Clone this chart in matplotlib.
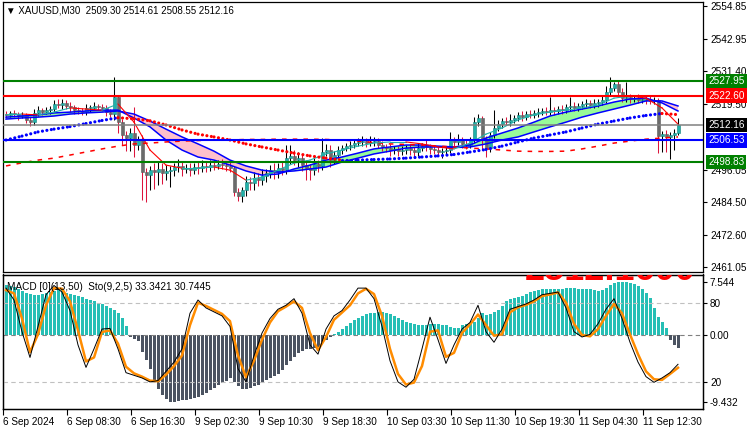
import numpy as np
import matplotlib
matplotlib.use("Agg")
import matplotlib.pyplot as plt
import matplotlib.transforms as mtransforms

plt.rcParams['font.family'] = ['Liberation Sans', 'DejaVu Sans']

# ---- price data (M30 bars) ----
first_open = 2516.0
closes = [
    2515.7, 2516.4, 2516.0, 2515.3, 2515.7, 2513.9, 2513.1, 2516.4, 2517.4, 2516.7,
    2517.4, 2517.8, 2519.6, 2519.2, 2520.0, 2518.9, 2518.5, 2517.4, 2517.1, 2516.7,
    2518.2, 2518.2, 2518.9, 2518.5, 2518.2, 2516.7, 2516.0, 2522.1, 2513.1, 2508.5,
    2507.4, 2509.2, 2504.9, 2506.7, 2495.2, 2494.1, 2495.9, 2495.2, 2496.3, 2494.9,
    2495.6, 2495.9, 2497.0, 2497.4, 2496.3, 2496.6, 2495.9, 2497.0, 2496.6, 2497.4,
    2497.0, 2497.7, 2497.4, 2498.1, 2497.7, 2497.4, 2496.6, 2488.0, 2486.6, 2488.8,
    2491.6, 2491.3, 2493.1, 2492.3, 2493.8, 2494.9, 2495.9, 2495.2, 2496.6, 2495.9,
    2500.2, 2501.0, 2499.5, 2500.2, 2497.7, 2496.6, 2495.9, 2498.1, 2497.4, 2502.4,
    2503.1, 2499.5, 2501.3, 2503.1, 2503.8, 2504.5, 2504.9, 2505.6, 2506.0, 2506.3,
    2505.6, 2506.0, 2506.3, 2504.9, 2504.2, 2503.8, 2503.1, 2503.5, 2502.7, 2503.1,
    2503.8, 2503.1, 2502.4, 2503.8, 2504.5, 2504.2, 2503.5, 2503.1, 2502.4, 2502.7,
    2503.1, 2506.7, 2506.0, 2506.7, 2505.3, 2504.9, 2506.7, 2513.1, 2514.6, 2506.7,
    2503.8, 2508.5, 2511.0, 2512.4, 2513.5, 2513.1, 2513.9, 2514.6, 2515.7, 2514.9,
    2516.0, 2515.7, 2516.4, 2516.7, 2517.1, 2516.7, 2517.4, 2517.1, 2517.8, 2517.4,
    2518.5, 2518.9, 2518.2, 2518.9, 2519.6, 2520.0, 2519.2, 2520.0, 2520.3, 2521.0,
    2523.9, 2525.3, 2526.8, 2523.9, 2521.7, 2522.1, 2521.4, 2521.7, 2521.0, 2521.4,
    2521.0, 2520.7, 2521.0, 2508.1, 2508.8, 2507.8, 2508.5, 2509.3, 2512.16,
]
hi_ext = [
    1.0, 0.8, 1.2, 0.9, 1.1, 0.7, 1.0, 1.3, 1.5, 0.9,
    1.2, 1.0, 1.6, 1.9, 1.3, 1.1, 1.4, 0.9, 1.0, 1.2,
    1.5, 1.1, 1.3, 0.8, 1.0, 1.2, 1.0, 7.2, 0.6, 1.2,
    1.5, 1.8, 9.3, 1.3, 1.8, 1.3, 1.6, 2.6, 2.7, 2.2,
    2.0, 1.6, 1.4, 2.5, 1.8, 1.6, 2.0, 1.5, 1.8, 2.2,
    1.5, 2.0, 1.7, 1.4, 1.8, 1.2, 1.5, 0.9, 1.4, 1.2,
    2.2, 1.8, 2.0, 1.6, 2.4, 1.5, 1.8, 2.6, 1.9, 2.4,
    4.7, 4.0, 2.0, 2.2, 1.5, 1.8, 1.6, 2.0, 1.4, 5.0,
    2.0, 1.8, 1.5, 1.4, 1.2, 1.3, 1.6, 1.0, 1.4, 2.0,
    1.2, 2.2, 1.5, 1.0, 1.3, 1.1, 1.4, 1.0, 1.2, 1.3,
    1.1, 1.5, 1.0, 1.8, 1.2, 2.4, 1.0, 1.3, 1.6, 1.0,
    1.4, 2.9, 1.2, 2.0, 1.0, 1.3, 1.1, 1.9, 1.4, 0.8,
    1.5, 1.2, 6.4, 1.4, 1.0, 1.6, 2.2, 1.2, 1.0, 1.5,
    1.2, 1.3, 1.0, 1.4, 1.1, 1.6, 4.8, 1.0, 1.2, 1.3,
    1.1, 3.3, 1.4, 1.0, 1.2, 1.5, 1.0, 1.3, 1.1, 1.4,
    2.1, 4.0, 0.7, 1.2, 1.5, 5.5, 1.0, 1.2, 1.4, 1.1,
    1.0, 1.5, 1.2, 0.9, 1.3, 1.6, 1.2, 1.2, 2.45,
]
lo_ext = [
    1.1, 0.9, 1.0, 1.3, 0.8, 1.2, 1.5, 0.9, 1.0, 1.1,
    0.8, 1.2, 1.0, 0.9, 1.3, 1.1, 1.6, 1.2, 1.0, 0.9,
    1.1, 1.3, 0.9, 1.2, 1.0, 1.4, 1.2, 2.1, 4.0, 3.5,
    4.5, 4.8, 4.3, 1.9, 10.0, 9.6, 5.3, 6.2, 4.7, 3.9,
    2.5, 5.6, 2.2, 1.8, 2.4, 1.6, 2.0, 1.5, 2.2, 1.4,
    1.8, 1.3, 1.6, 1.2, 1.5, 1.9, 1.4, 1.5, 1.8, 2.1,
    2.0, 2.4, 2.5, 2.2, 1.9, 2.3, 1.8, 2.6, 2.0, 1.7,
    1.5, 2.0, 1.8, 2.4, 2.2, 4.3, 3.6, 1.8, 2.0, 1.5,
    1.6, 2.4, 1.5, 1.2, 1.4, 1.1, 1.3, 1.0, 1.2, 1.5,
    1.3, 1.0, 1.4, 1.2, 1.6, 1.5, 2.0, 1.4, 1.8, 1.5,
    1.3, 1.6, 2.2, 1.4, 1.2, 1.5, 1.8, 1.3, 1.6, 2.0,
    1.5, 1.2, 1.4, 1.1, 1.6, 1.3, 1.2, 1.0, 1.4, 3.7,
    3.2, 1.5, 1.2, 1.0, 1.3, 1.1, 1.4, 1.2, 1.0, 1.3,
    1.1, 1.2, 1.0, 1.3, 1.1, 1.2, 1.0, 1.4, 1.1, 1.2,
    1.0, 1.3, 1.1, 1.2, 1.0, 1.4, 1.2, 1.0, 1.3, 1.1,
    1.0, 1.2, 1.1, 1.5, 1.4, 1.2, 1.3, 1.1, 1.2, 1.0,
    1.3, 1.1, 1.2, 6.1, 5.7, 5.3, 7.8, 5.5, 0.75,
]

# ---- indicator lines, one value every 4 bars ----
ind_step = 4
dot_ma = [
    2506.7, 2508.1, 2509.6, 2510.6, 2511.5, 2512.6, 2513.7, 2514.7, 2514.3, 2513.6,
    2512.1, 2510.3, 2508.8, 2507.8, 2506.7, 2505.3, 2504.2, 2503.1, 2502.0, 2501.0,
    2500.2, 2499.5, 2499.5, 2499.7, 2499.9, 2500.2, 2500.6, 2501.0, 2501.5, 2502.4,
    2503.3, 2504.5, 2506.0, 2507.4, 2508.5, 2509.6, 2511.0, 2512.4, 2513.5, 2514.6,
    2515.5, 2516.2, 2515.8,
]
long_ma = [
    2497.4, 2498.5, 2499.5, 2500.2, 2501.3, 2502.4, 2503.5, 2504.5, 2505.3, 2505.6,
    2506.0, 2506.3, 2506.5, 2506.7, 2506.7, 2506.9, 2506.9, 2507.0, 2507.0, 2507.0,
    2506.9, 2506.7, 2506.3, 2505.8, 2505.3, 2505.1, 2504.9, 2504.5, 2504.2, 2503.8,
    2503.5, 2503.1, 2502.7, 2502.6, 2502.6, 2502.7, 2503.5, 2504.5, 2505.6, 2506.3,
    2507.0, 2507.4, 2507.8,
]
ribbon_fast = [
    2514.9, 2515.3, 2515.7, 2516.4, 2516.7, 2517.1, 2517.4, 2517.4, 2514.6, 2511.4,
    2506.7, 2503.1, 2500.6, 2499.5, 2497.7, 2495.6, 2494.1, 2494.5, 2496.3, 2497.7,
    2499.5, 2500.6, 2502.0, 2503.5, 2504.2, 2504.9, 2504.9, 2504.5, 2504.2, 2504.9,
    2507.4, 2509.2, 2511.0, 2513.1, 2515.3, 2516.7, 2517.8, 2518.9, 2520.3, 2521.4,
    2521.7, 2520.0, 2517.1,
]
ribbon_slow = [
    2514.2, 2514.6, 2514.9, 2515.3, 2516.0, 2516.4, 2516.7, 2517.1, 2516.0, 2513.5,
    2510.6, 2507.8, 2505.3, 2502.7, 2499.5, 2497.4, 2495.9, 2495.2, 2495.6, 2496.3,
    2497.0, 2498.8, 2500.2, 2501.7, 2502.7, 2503.8, 2504.2, 2504.2, 2504.0, 2504.2,
    2505.3, 2506.7, 2507.8, 2509.6, 2511.4, 2513.1, 2514.9, 2516.4, 2517.8, 2519.2,
    2520.7, 2520.7, 2518.9,
]
fast_line = [
    2515.7, 2516.0, 2515.7, 2516.7, 2518.2, 2517.8, 2517.4, 2519.6, 2513.1, 2503.1,
    2497.7, 2496.6, 2496.6, 2497.0, 2495.9, 2492.3, 2493.4, 2495.9, 2498.4, 2499.5,
    2501.7, 2503.1, 2504.5, 2505.6, 2506.0, 2506.0, 2505.3, 2504.2, 2503.5, 2505.6,
    2508.8, 2511.0, 2513.9, 2515.7, 2516.7, 2517.4, 2518.2, 2519.2, 2521.7, 2522.5,
    2521.7, 2518.2, 2512.4,
]

# ---- MACD histogram (every bar) ----
macd_hist = [
    7.1, 7.0, 6.8, 6.5, 6.2, 6.0, 5.8, 5.7, 5.7, 5.8,
    6.0, 6.1, 6.2, 6.4, 6.4, 6.0, 5.8, 5.7, 5.5, 5.4,
    5.2, 5.0, 4.9, 4.6, 4.4, 4.2, 3.9, 3.6, 3.1, 2.4,
    1.3, -0.3, -0.5, -0.8, -2.4, -3.5, -4.8, -6.5, -7.6, -8.4,
    -9.0, -9.43, -9.4, -9.3, -9.2, -9.1, -9.0, -8.9, -8.7, -8.4,
    -8.1, -7.8, -7.5, -7.0, -6.7, -6.4, -6.1, -6.6, -7.2, -7.6,
    -7.6, -7.4, -7.2, -7.0, -6.7, -6.3, -6.0, -5.7, -5.4, -4.9,
    -4.2, -3.6, -3.0, -2.5, -2.2, -2.0, -1.9, -1.8, -1.6, -1.0,
    -0.6, -0.3, 0.2, 0.5, 0.9, 1.3, 1.7, 2.1, 2.4, 2.7,
    3.0, 3.1, 3.2, 3.3, 3.3, 3.2, 3.0, 2.8, 2.4, 2.1,
    1.9, 1.7, 1.6, 1.5, 1.5, 1.5, 1.6, 1.6, 1.6, 1.5,
    1.4, 1.2, 1.1, 1.0, 1.4, 1.6, 1.7, 1.9, 2.5, 3.1,
    2.9, 3.0, 3.3, 3.6, 4.2, 4.8, 5.2, 5.3, 5.4, 5.6,
    5.9, 6.1, 6.2, 6.4, 6.5, 6.5, 6.6, 6.6, 6.6, 6.6,
    6.7, 6.7, 6.7, 6.6, 6.6, 6.5, 6.5, 6.4, 6.3, 6.4,
    6.7, 7.1, 7.4, 7.5, 7.544, 7.5, 7.4, 7.2, 7.0, 6.6,
    6.0, 5.3, 3.9, 2.6, 1.9, 1.0, -0.7, -1.4, -1.8,
]

# ---- Stochastic, one value every 2 bars ----
sto_step = 2
sto_main = [
    91, 82, 58, 38.5, 62, 86, 93, 88, 74, 48,
    31, 45, 60, 60.5, 45, 27, 25, 23, 20, 21,
    28, 35, 45, 72, 82, 76, 73, 70, 62, 30,
    20, 40, 57, 68, 75, 78, 83, 72, 48, 41,
    60, 70, 74, 82, 91, 91, 83, 62, 36, 20,
    16, 22, 45, 69, 52, 34, 48, 60, 65, 78,
    58, 50, 60, 75, 77, 79, 82, 86, 87, 88,
    76, 58, 54, 56, 64, 75, 83, 68, 50, 35,
    24, 19.7, 23, 27, 33.34,
]
sto_signal = [
    89.5, 87, 68, 42.5, 56, 78, 91, 90.5, 81, 59,
    35.5, 38.5, 57.8, 59, 49, 31.5, 26.5, 24, 21, 20.5,
    25.5, 32, 40, 63, 80, 77.5, 74.5, 71.5, 66, 40,
    23.5, 36, 52, 65, 73.5, 77, 81, 76, 57, 44,
    54, 67, 72.5, 78, 87, 90.5, 86.5, 70, 45, 26,
    18, 19.5, 32, 58, 59, 39, 42, 57, 63.5, 71,
    63, 55, 56, 72.6, 76.5, 78.3, 81, 85, 86.2, 87.7,
    80, 64, 55.5, 54.5, 60, 70, 79, 72, 56, 41,
    28, 22, 21.5, 26, 30.74,
]

# ---- axis annotations ----
time_labels = ["6 Sep 2024", "6 Sep 08:30", "6 Sep 16:30", "9 Sep 02:30", "9 Sep 10:30",
               "9 Sep 18:30", "10 Sep 03:30", "10 Sep 11:30", "10 Sep 19:30",
               "11 Sep 04:30", "11 Sep 12:30"]
time_label_bars = [0, 16, 32, 48, 64, 80, 96, 112, 128, 144, 160]
price_ticks = [2554.85, 2542.95, 2531.40, 2519.50, 2496.05, 2484.50, 2472.60, 2461.05]
level_prices = [2527.95, 2522.60, 2512.16, 2506.53, 2498.83]
level_colors = ['#008000', '#FF0000', '#808080', '#0000FF', '#008000']
label_colors = ['#008000', '#FF0000', '#000000', '#0000FF', '#008000']

# ---- figure ----
W, H = 750, 430
fig = plt.figure(figsize=(W / 100, H / 100), dpi=100)
ax = fig.add_axes([3 / W, 1 - 271.5 / H, 700 / W, 269.5 / H])
ax2 = fig.add_axes([3 / W, 1 - 409 / H, 700 / W, 134.5 / H])
ax3 = ax2.twinx()

n = len(closes)
x = np.arange(n)
c = np.array(closes)
o = np.array([first_open] + closes[:-1])
hi = np.maximum(o, c) + np.array(hi_ext)
lo = np.minimum(o, c) - np.array(lo_ext)
bull = c >= o
xlim = (-0.75, 174.25)

# ribbon fill
xi = np.arange(0, n, ind_step)
rf = np.array(ribbon_fast)
rs = np.array(ribbon_slow)
ax.fill_between(xi, rf, rs, where=rf >= rs, interpolate=True, color='#98FB98', lw=0, zorder=1)
ax.fill_between(xi, rf, rs, where=rf < rs, interpolate=True, color='#FFC0CB', lw=0, zorder=1)

# candles
body_lo = np.minimum(o, c)
body_h = np.maximum(np.abs(c - o), 0.3)
ax.vlines(x[bull], lo[bull], hi[bull], color='black', lw=0.75, zorder=2)
ax.vlines(x[~bull], lo[~bull], hi[~bull], color='#DC143C', lw=0.75, zorder=2)
ax.bar(x[bull], body_h[bull], bottom=body_lo[bull], width=0.75, color='#20B2AA',
       edgecolor='#137F79', lw=0.4, zorder=2.5)
ax.bar(x[~bull], body_h[~bull], bottom=body_lo[~bull], width=0.75, color='#6B6B6B',
       edgecolor='#5A5A5A', lw=0.4, zorder=2.5)

# ribbon lines
ax.plot(xi, rf, color='#0000FF', lw=1.1, zorder=3)
ax.plot(xi, rs, color='#0000FF', lw=1.1, zorder=3)

# long MA (dashed)
ax.plot(xi, long_ma, color='#FF0000', lw=1.1, linestyle=(0, (3, 4)), zorder=3)

# fast line and dotted MA coloured by slope
for k in range(len(xi) - 1):
    col = '#20B2AA' if fast_line[k + 1] >= fast_line[k] else '#FF0000'
    ax.plot(xi[k:k + 2], fast_line[k:k + 2], color=col, lw=0.8, zorder=3.2)
for k in range(len(xi) - 1):
    col = '#0000FF' if dot_ma[k + 1] >= dot_ma[k] else '#FF0000'
    ax.plot(xi[k:k + 2], dot_ma[k:k + 2], color=col, lw=2.3, linestyle=(0, (0.01, 1.4)),
            dash_capstyle='round', zorder=3.5)

# horizontal levels
for p, lc in zip(level_prices, level_colors):
    ax.axhline(p, color=lc, lw=1.5 if lc != '#808080' else 1.1, zorder=4)

ax.set_xlim(*xlim)
ax.set_ylim(2459.55, 2556.18)
ax.set_xticks([])
ax.yaxis.tick_right()
ax.set_yticks(price_ticks)
ax.set_yticklabels([f'{v:.2f}' for v in price_ticks])
ax.tick_params(axis='y', length=3, width=0.8, pad=2, labelsize=7.2)

trans = mtransforms.blended_transform_factory(ax.transAxes, ax.transData)
for p, bc in zip(level_prices, label_colors):
    ax.text(1 + 5 / 700, p, f'{p:.2f}', transform=trans, color='white', fontsize=7.2,
            va='center', ha='left', clip_on=False, zorder=10,
            bbox=dict(boxstyle='square,pad=0.22', fc=bc, ec='none'))

ax.text(0.004, 0.968, '\u25bc XAUUSD,M30  2509.30 2514.61 2508.55 2512.16',
        transform=ax.transAxes, fontsize=7.0, va='center', ha='left', zorder=10)

# ---- lower panel ----
h = np.array(macd_hist)
ax2.bar(x, h, width=0.75, color=np.where(h >= 0, '#26BFB5', '#4B5361'), lw=0, zorder=1)
ax2.axhline(0, color='#808080', lw=0.8, linestyle=(0, (4, 3)), zorder=2)
ax2.set_xlim(*xlim)
ax2.set_ylim(-10.42, 8.6)
ax2.yaxis.tick_right()
ax2.set_yticks([7.544, 0, -9.432])
ax2.set_yticklabels(['7.544', '0.00', '-9.432'])
ax2.tick_params(axis='y', length=3, width=0.8, pad=2, labelsize=7.2)
ax2.set_xticks(np.array(time_label_bars) - 0.75)
ax2.set_xticklabels(time_labels, ha='left')
ax2.tick_params(axis='x', length=4, width=0.8, pad=2, labelsize=7.2)

xs = np.arange(0, n, sto_step)
ax3.axhline(80, color='#C0C0C0', lw=0.8, linestyle=(0, (4, 3)))
ax3.axhline(20, color='#C0C0C0', lw=0.8, linestyle=(0, (4, 3)))
ax3.plot(xs, sto_signal, color='#FF8C00', lw=1.8, zorder=3)
ax3.plot(xs, sto_main, color='black', lw=0.7, zorder=4)
ax3.set_xlim(*xlim)
ax3.set_ylim(-0.5, 101.3)
ax3.set_yticks([80, 20])
ax3.set_yticklabels(['80', '20'])
ax3.tick_params(axis='y', length=3, width=0.8, pad=2, labelsize=7.2)

ax3.text(0.746, 0.958, '2512.1600', transform=ax3.transAxes, color='#FF0000',
         fontsize=26, fontweight='bold', va='baseline', ha='left', clip_on=True)
ax3.text(0.006, 0.905, 'MACD [0](13,50)  Sto(9,2,5) 33.3421 30.7445',
         transform=ax3.transAxes, fontsize=7.2, va='center', ha='left')

for a in (ax, ax2, ax3):
    for s in a.spines.values():
        s.set_linewidth(0.9)
        s.set_color('black')

fig.savefig('out.png', dpi=100, facecolor='white')
